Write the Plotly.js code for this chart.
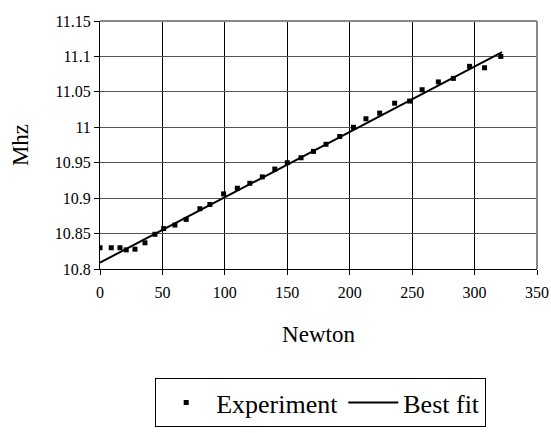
<!DOCTYPE html>
<html>
<head>
<meta charset="utf-8">
<script src="https://cdn.plot.ly/plotly-3.0.1.min.js"></script>
<style>
html,body{margin:0;padding:0;background:#fff;}
#chart{width:551px;height:433px;}
</style>
</head>
<body>
<div id="chart"></div>
<script>
const newton = [0, 9, 16, 21, 28, 36, 44, 51, 60, 69, 80, 88, 99, 110, 120, 130, 140, 150, 161, 171, 181, 192, 203, 213, 224, 236, 248, 258, 271, 283, 296, 308, 321];
const mhz = [10.83, 10.83, 10.83, 10.827, 10.828, 10.837, 10.849, 10.857, 10.862, 10.870, 10.885, 10.891, 10.906, 10.914, 10.921, 10.930, 10.941, 10.950, 10.957, 10.966, 10.976, 10.987, 11.000, 11.012, 11.020, 11.034, 11.037, 11.053, 11.064, 11.069, 11.086, 11.084, 11.100];
const fitX = [0, 322];
const fitY = [10.809, 11.106];
const xTicks = [0, 50, 100, 150, 200, 250, 300, 350];
const yTicks = [10.8, 10.85, 10.9, 10.95, 11, 11.05, 11.1, 11.15];
const yTickText = ['10.8', '10.85', '10.9', '10.95', '11', '11.05', '11.1', '11.15'];

const FONT = 'Liberation Serif';

const data = [
  {x: newton, y: mhz, type: 'scatter', mode: 'markers', name: 'Experiment',
   marker: {symbol: 'square', size: 5, color: '#000'}},
  {x: fitX, y: fitY, type: 'scatter', mode: 'lines', name: 'Best fit',
   line: {color: '#000', width: 2}}
];

const layout = {
  width: 551, height: 433,
  margin: {l: 100, r: 14, t: 21, b: 164},
  paper_bgcolor: '#fff', plot_bgcolor: '#fff',
  font: {family: FONT, color: '#000', size: 16},
  showlegend: true,
  legend: {orientation: 'h', xref: 'paper', yref: 'container',
           x: 0.505, xanchor: 'center', y: 0.127, yanchor: 'top',
           bordercolor: '#000', borderwidth: 1, font: {family: FONT, size: 26, color: '#000'},
           itemwidth: 50},
  xaxis: {range: [0, 350], tickvals: xTicks, ticktext: xTicks.map(String),
          showgrid: true, gridcolor: '#000', gridwidth: 1,
          showline: true, linecolor: '#000', linewidth: 1,
          ticks: 'outside', ticklen: 5, tickcolor: '#000', zeroline: false,
          ticklabelstandoff: 4, automargin: false,
          tickfont: {family: FONT, size: 16, color: '#000'},
          title: {text: 'Newton', font: {family: FONT, size: 23, color: '#000'}, standoff: 25}},
  yaxis: {range: [10.8, 11.15], tickvals: yTicks, ticktext: yTickText,
          showgrid: true, gridcolor: '#555', gridwidth: 1,
          showline: true, linecolor: '#000', linewidth: 1,
          ticks: 'outside', ticklen: 5, tickcolor: '#000', zeroline: false,
          automargin: false,
          tickfont: {family: FONT, size: 16, color: '#000'},
          title: {text: 'Mhz', font: {family: FONT, size: 23, color: '#000'}, standoff: 19}},
  shapes: [
    {type: 'line', xref: 'paper', yref: 'paper', x0: 0, x1: 1, y0: 1, y1: 1, layer: 'above', line: {color: '#888', width: 2}},
    {type: 'line', xref: 'paper', yref: 'paper', x0: 1, x1: 1, y0: 0, y1: 1, layer: 'above', line: {color: '#888', width: 2}}
  ]
};

Plotly.newPlot('chart', data, layout, {displayModeBar: false, staticPlot: true});
</script>
</body>
</html>
